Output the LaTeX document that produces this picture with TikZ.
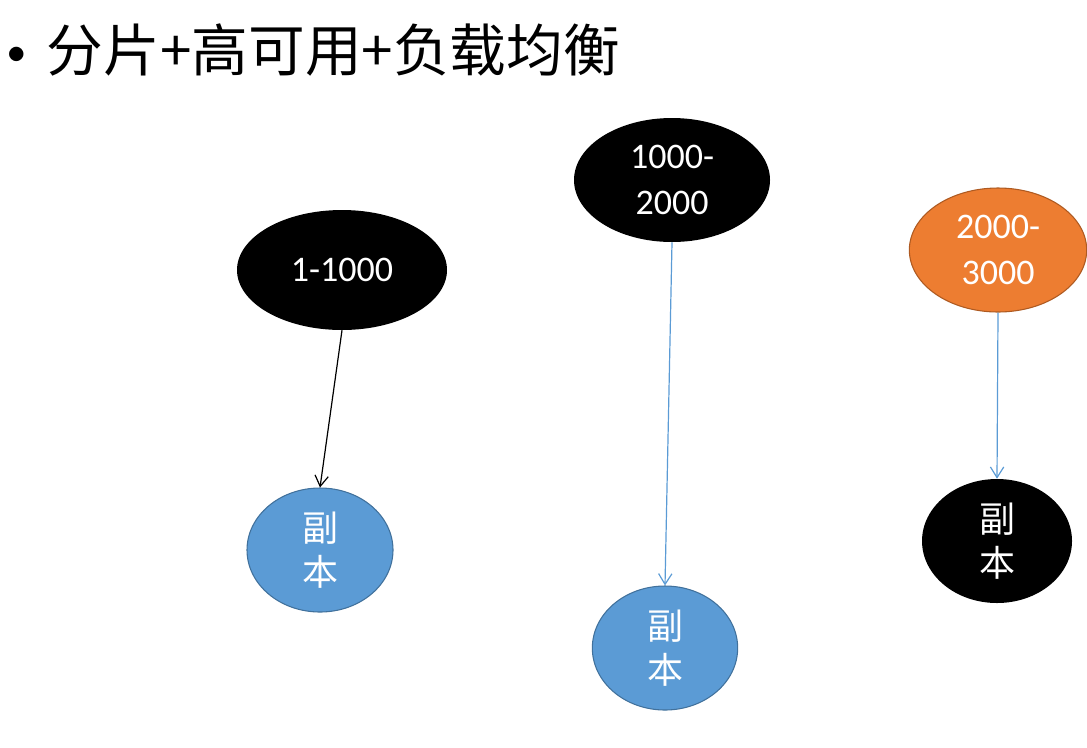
\documentclass[tikz,border=0pt]{standalone}
\usepackage{fontspec}
\setmainfont{Carlito}
\newfontfamily\cjk{Noto Sans CJK SC}
\usepackage{tikz}
\usetikzlibrary{arrows.meta,shapes.geometric}

\definecolor{shardblue}{HTML}{5B9BD5}
\definecolor{shardblueline}{HTML}{41719C}
\definecolor{shardorange}{HTML}{ED7D31}
\definecolor{shardorangeline}{HTML}{AE5A21}

\tikzset{
  shard/.style={ellipse, inner sep=0pt, text=white, align=center,
    font=\fontsize{27}{34}\selectfont},
  replica/.style={ellipse, inner sep=0pt, text=white, align=center,
    font=\cjk\fontsize{27}{33}\selectfont},
  link/.style={-{Straight Barb[length=8pt,width=10pt]}, line width=0.9pt}
}

\begin{document}
\begin{tikzpicture}[x=0.75pt, y=-0.75pt]
  \useasboundingbox (0,0) rectangle (1087,747);

  % title
  \node[anchor=west, inner sep=0pt, font=\cjk\fontsize{42.5}{50}\selectfont] (title) at (8,50)
    {\raisebox{8pt}{\fontsize{12}{12}\selectfont\cjk●}\hspace{17pt}分片+高可用+负载均衡};

  % shards
  \node[shard, fill=black, minimum width=157.5pt, minimum height=90pt] (s1) at (342,270) {1-1000};
  \node[shard, fill=black, minimum width=147pt, minimum height=93pt] (s2) at (672,180) {1000-\\2000};
  \node[shard, fill=shardorange, draw=shardorangeline, line width=0.8pt,
    minimum width=133pt, minimum height=93pt] (s3) at (998,250) {2000-\\3000};

  % replicas
  \node[replica, fill=shardblue, draw=shardblueline, line width=0.8pt,
    minimum width=109.5pt, minimum height=93pt] (r1) at (320,550) {副\\本};
  \node[replica, fill=shardblue, draw=shardblueline, line width=0.8pt,
    minimum width=109pt, minimum height=93pt] (r2) at (665,648) {副\\本};
  \node[replica, fill=black, minimum width=112.5pt, minimum height=93pt] (r3) at (997,541) {副\\本};

  \draw[link, black] (s1.south) -- (r1.north);
  \draw[link, shardblue] (s2.south) -- (r2.north);
  \draw[link, shardblue] (s3.south) -- (r3.north);
\end{tikzpicture}
\end{document}
